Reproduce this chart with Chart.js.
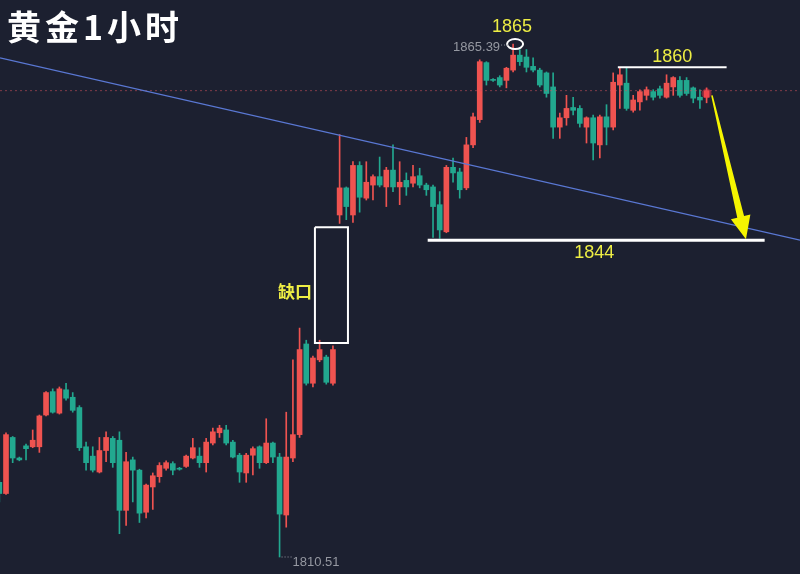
<!DOCTYPE html>
<html>
<head>
<meta charset="utf-8">
<script src="https://cdn.jsdelivr.net/npm/chart.js@4.4.1/dist/chart.umd.min.js"></script>
<style>
  html, body { margin: 0; padding: 0; background: #1c2030; }
  #chart { display: block; }
</style>
</head>
<body>
<canvas id="chart" width="800" height="574"></canvas>
<script>
// hourly gold candles (price)
const opens = [
  1818.5,1817.3,1823.3,1821.1,1822.4,1822.3,1822.3,1825.7,1828.2,1825.9,
  1828.4,1827.6,1826.5,1822.3,1821.3,1819.6,1821.9,1823.2,1823.0,1815.5,
  1820.9,1819.8,1815.3,1818.0,1819.1,1820.0,1820.5,1820.0,1820.2,1821.1,
  1821.3,1820.6,1822.7,1823.8,1824.1,1822.8,1821.4,1819.5,1821.4,1822.3,
  1820.6,1822.7,1821.2,1815.0,1821.1,1823.6,1833.3,1829.1,1831.6,1831.9,
  1829.1,1847.1,1850.0,1847.1,1852.4,1848.9,1850.3,1851.2,1850.1,1851.9,
  1850.1,1850.8,1850.5,1851.3,1850.3,1850.1,1848.2,1845.3,1852.2,1851.7,
  1850.0,1854.6,1857.3,1863.4,1861.6,1861.8,1861.5,1862.6,1864.2,1864.0,
  1863.0,1862.6,1862.3,1860.8,1856.5,1857.5,1858.6,1858.5,1856.5,1857.5,
  1854.6,1857.6,1856.5,1861.0,1861.2,1858.3,1859.2,1859.9,1860.3,1860.6,
  1859.7,1860.8,1861.5,1861.5,1860.7,1859.7,1859.7
];
const highs = [
  1818.7,1823.8,1823.4,1821.2,1822.6,1824.1,1825.7,1828.2,1828.5,1828.7,
  1829.1,1828.1,1826.7,1822.8,1822.3,1823.3,1823.9,1823.4,1823.9,1821.7,
  1821.2,1819.9,1818.3,1819.5,1820.6,1820.8,1820.7,1820.1,1821.4,1823.2,
  1822.2,1823.2,1824.3,1824.6,1824.6,1823.0,1821.6,1821.6,1822.3,1822.4,
  1825.3,1822.8,1821.6,1826.0,1831.6,1835.0,1833.7,1832.0,1833.7,1832.1,
  1833.1,1855.7,1850.1,1852.8,1852.8,1852.8,1851.4,1853.3,1852.2,1854.6,
  1852.8,1851.6,1852.4,1852.1,1850.5,1850.3,1849.6,1852.4,1853.2,1852.1,
  1855.4,1858.0,1863.7,1863.5,1861.7,1862.0,1862.9,1865.39,1864.8,1864.8,
  1863.9,1862.8,1862.4,1862.3,1858.0,1859.9,1859.7,1858.8,1857.6,1857.8,
  1857.8,1858.9,1862.3,1862.8,1862.8,1859.9,1860.5,1860.8,1860.5,1860.9,
  1862.1,1861.9,1861.9,1861.8,1860.8,1860.5,1860.7
];
const lows = [
  1816.4,1817.2,1820.6,1820.8,1820.9,1822.2,1821.7,1825.6,1825.9,1825.8,
  1827.3,1826.0,1821.9,1819.8,1819.6,1819.5,1820.7,1820.1,1813.0,1813.9,
  1816.4,1814.2,1814.7,1815.6,1818.5,1819.8,1819.3,1819.8,1820.1,1821.0,
  1820.1,1819.6,1822.5,1823.3,1822.5,1821.1,1818.5,1818.5,1819.3,1820.0,
  1820.5,1820.6,1810.51,1813.7,1820.7,1823.3,1828.9,1828.7,1831.4,1829.0,
  1828.9,1846.2,1846.6,1846.3,1847.4,1848.7,1848.7,1850.1,1848.0,1849.6,
  1848.2,1849.2,1850.1,1850.0,1849.2,1844.7,1844.6,1845.2,1850.6,1848.9,
  1849.8,1854.3,1857.0,1861.0,1861.4,1860.8,1860.7,1862.4,1863.1,1862.4,
  1862.4,1860.8,1859.7,1855.3,1855.3,1856.7,1857.8,1856.5,1854.8,1853.0,
  1853.2,1854.6,1856.2,1858.5,1858.3,1858.1,1858.3,1859.4,1859.4,1859.6,
  1859.6,1859.9,1859.7,1859.9,1859.1,1858.5,1859.1
];
const closes = [
  1817.3,1823.6,1821.1,1820.9,1822.1,1823.0,1825.6,1828.1,1826.0,1828.5,
  1827.5,1826.2,1822.2,1820.6,1819.8,1821.9,1823.3,1820.6,1815.5,1820.7,
  1819.8,1815.2,1818.2,1819.2,1820.3,1820.6,1819.8,1819.9,1821.3,1822.2,
  1820.6,1822.8,1823.9,1824.3,1822.7,1821.2,1819.6,1821.4,1822.1,1820.6,
  1822.7,1821.2,1815.1,1821.2,1823.6,1832.7,1829.1,1831.8,1832.7,1829.2,
  1832.7,1850.0,1848.0,1852.4,1849.0,1850.6,1851.2,1850.3,1851.9,1850.1,
  1850.6,1850.1,1851.2,1850.3,1849.8,1848.0,1845.5,1852.2,1851.6,1849.8,
  1854.6,1857.6,1863.5,1861.5,1861.5,1861.0,1862.8,1864.2,1863.5,1862.9,
  1862.6,1861.0,1860.1,1856.5,1857.5,1858.5,1858.3,1856.9,1857.5,1854.8,
  1857.6,1856.5,1861.3,1862.1,1858.5,1859.4,1860.3,1860.5,1859.7,1859.9,
  1861.2,1861.8,1859.9,1860.1,1859.6,1859.4,1860.4
];

// drawn levels and marks (candle index, price)
const trendLine = [[0.1, 1863.9], [120, 1844.4]];
const supportLine = [[64.2, 1844.4], [114.7, 1844.4]];
const resistanceLine = [[92.7, 1862.9], [109.0, 1862.9]];
const gapBox = [[47.3, 1845.8], [52.25, 1833.4]];
const arrowPath = [[106.8, 1859.9], [111.9, 1844.5]];
const labels = { high: '1865', resistance: '1860', support: '1844', gap: '缺口', title: '黄金1小时' };

const upColor = '#ef5350';
const downColor = '#22a88f';
const yellow = '#eeee44';

const idx = opens.map((_, i) => i);
const hiIdx = highs.indexOf(Math.max(...highs));
const loIdx = lows.indexOf(Math.min(...lows));
const last = closes.length - 1;

const candleColor = ctx => closes[ctx.dataIndex] >= opens[ctx.dataIndex] ? upColor : downColor;
const seg = pts => pts.map(p => ({ x: p[0], y: p[1] }));
const lineSet = (pts, color, width, extra) => Object.assign({
  type: 'line', data: seg(pts), borderColor: color, borderWidth: width,
  pointRadius: 0, fill: false, tension: 0
}, extra || {});

const boxPts = [
  [gapBox[0][0], gapBox[0][1]], [gapBox[1][0], gapBox[0][1]],
  [gapBox[1][0], gapBox[1][1]], [gapBox[0][0], gapBox[1][1]],
  [gapBox[0][0], gapBox[0][1]]
];

const overlay = {
  id: 'overlay',
  beforeDraw(chart) {
    const ctx = chart.ctx;
    ctx.save();
    ctx.fillStyle = '#1c2030';
    ctx.fillRect(0, 0, chart.width, chart.height);
    ctx.restore();
  },
  afterDatasetsDraw(chart) {
    const { ctx, scales: { x, y } } = chart;
    ctx.save();

    // arrow, tapered
    const sx = x.getPixelForValue(arrowPath[0][0]), sy = y.getPixelForValue(arrowPath[0][1]);
    const tx = x.getPixelForValue(arrowPath[1][0]), ty = y.getPixelForValue(arrowPath[1][1]);
    const len = Math.hypot(tx - sx, ty - sy);
    const dx = (tx - sx) / len, dy = (ty - sy) / len;
    const nx = -dy, ny = dx;
    const headLen = 23, headW = 10;
    const bx = tx - dx * headLen, by = ty - dy * headLen;
    ctx.fillStyle = '#f5f500';
    ctx.beginPath();
    ctx.moveTo(sx + nx * 0.8, sy + ny * 0.8);
    ctx.lineTo(bx + nx * 3.5, by + ny * 3.5);
    ctx.lineTo(bx + nx * headW, by + ny * headW);
    ctx.lineTo(tx, ty);
    ctx.lineTo(bx - nx * headW, by - ny * headW);
    ctx.lineTo(bx - nx * 3.5, by - ny * 3.5);
    ctx.lineTo(sx - nx * 0.8, sy - ny * 0.8);
    ctx.closePath();
    ctx.fill();

    // high / low markers
    const hx = x.getPixelForValue(hiIdx), hy = y.getPixelForValue(highs[hiIdx]);
    ctx.strokeStyle = '#ffffff';
    ctx.lineWidth = 2;
    ctx.beginPath();
    ctx.ellipse(hx + 2, hy, 8, 5, 0, 0, Math.PI * 2);
    ctx.stroke();

    ctx.fillStyle = '#9598a1';
    ctx.font = '13px "Liberation Sans", Arial, sans-serif';
    ctx.textBaseline = 'middle';
    ctx.textAlign = 'right';
    ctx.fillText(highs[hiIdx].toFixed(2), hx - 13, hy + 3);
    const lx = x.getPixelForValue(loIdx), ly = y.getPixelForValue(lows[loIdx]);
    ctx.textAlign = 'left';
    ctx.fillText(lows[loIdx].toFixed(2), lx + 13, ly + 5);
    ctx.strokeStyle = '#9598a1';
    ctx.lineWidth = 1;
    ctx.setLineDash([1, 2]);
    ctx.beginPath();
    ctx.moveTo(hx - 12, hy + 1); ctx.lineTo(hx - 4, hy + 1);
    ctx.moveTo(lx + 2, ly); ctx.lineTo(lx + 12, ly);
    ctx.stroke();
    ctx.setLineDash([]);

    // yellow labels
    ctx.fillStyle = yellow;
    ctx.textAlign = 'center';
    ctx.font = '18px "Liberation Sans", Arial, sans-serif';
    ctx.fillText(labels.high, hx - 1, hy - 17);
    const rx = x.getPixelForValue((resistanceLine[0][0] + resistanceLine[1][0]) / 2);
    ctx.fillText(labels.resistance, rx, y.getPixelForValue(resistanceLine[0][1]) - 10);
    const spx = x.getPixelForValue((supportLine[0][0] + supportLine[1][0]) / 2);
    ctx.fillText(labels.support, spx - 2, y.getPixelForValue(supportLine[0][1]) + 13);

    ctx.textAlign = 'right';
    ctx.font = 'bold 17px "Noto Sans CJK SC", sans-serif';
    const gx = x.getPixelForValue(gapBox[0][0]);
    const gy = (y.getPixelForValue(gapBox[0][1]) + y.getPixelForValue(gapBox[1][1])) / 2;
    ctx.fillText(labels.gap, gx - 3, gy + 6);

    // title
    ctx.fillStyle = '#ffffff';
    ctx.textAlign = 'left';
    ctx.textBaseline = 'alphabetic';
    ctx.font = 'bold 34px "Noto Sans CJK SC", sans-serif';
    if ('letterSpacing' in ctx) ctx.letterSpacing = '4px';
    ctx.fillText(labels.title, 7, 40);
    ctx.restore();
  }
};

new Chart(document.getElementById('chart'), {
  type: 'bar',
  data: {
    datasets: [
      lineSet(trendLine, '#5a78d4', 1.2),
      lineSet(supportLine, '#ffffff', 3),
      lineSet(resistanceLine, '#ffffff', 2),
      lineSet(boxPts, '#ffffff', 2),
      lineSet([[0.1, closes[last]], [120, closes[last]]], 'rgba(214,84,96,0.55)', 1, { borderDash: [2, 3] }),
      lineSet([[last, closes[last] - 0.3]], 'rgba(0,0,0,0)', 0, {
        pointRadius: 5, pointBackgroundColor: 'rgba(242,54,69,0.45)', pointBorderWidth: 0
      }),
      {
        label: 'body',
        data: idx.map(i => ({ x: i, y: [opens[i], closes[i]] })),
        backgroundColor: candleColor,
        borderWidth: 0,
        barThickness: 5,
        minBarLength: 1,
        grouped: false
      },
      {
        label: 'wick',
        data: idx.map(i => ({ x: i, y: [lows[i], highs[i]] })),
        backgroundColor: candleColor,
        borderWidth: 0,
        barThickness: 1,
        grouped: false
      }
    ]
  },
  options: {
    responsive: false,
    animation: false,
    layout: { padding: 0, autoPadding: false },
    plugins: { legend: { display: false }, tooltip: { enabled: false } },
    scales: {
      x: { type: 'linear', min: 0.1, max: 120, offset: false, display: false },
      y: { min: 1808.69, max: 1870.1, display: false }
    }
  },
  plugins: [overlay]
});
</script>
</body>
</html>
